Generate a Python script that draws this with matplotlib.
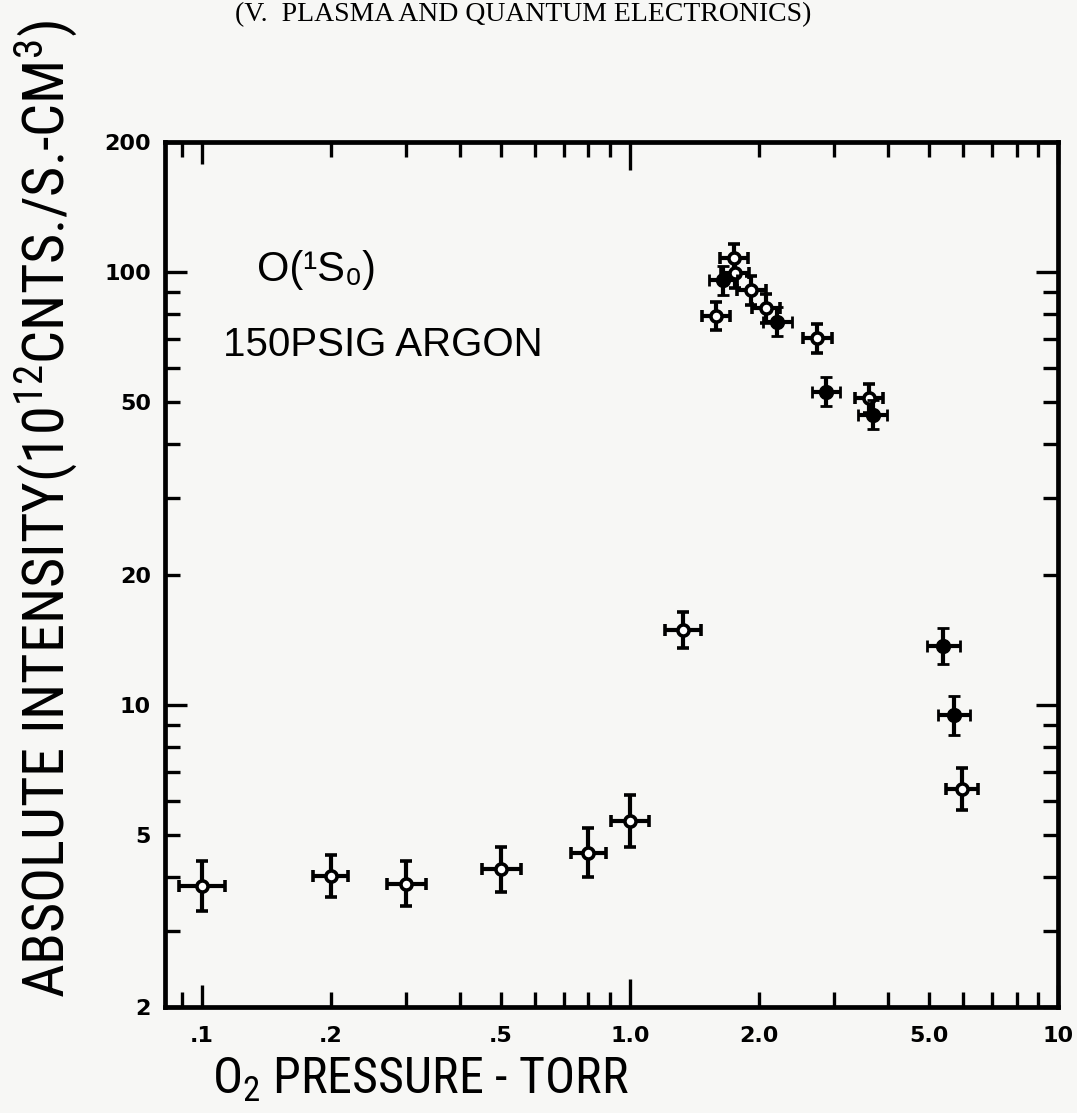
import numpy as np
import matplotlib
matplotlib.use("Agg")
import matplotlib.pyplot as plt
from matplotlib import font_manager as fm
from matplotlib.ticker import FixedLocator, FixedFormatter, NullFormatter

# ---------------- data ----------------
x_open = [0.10, 0.20, 0.30, 0.50, 0.80, 1.00, 1.33, 1.59, 1.75, 1.76, 1.92, 2.08, 2.74, 3.62, 5.97]
y_open = [3.81, 4.02, 3.86, 4.16, 4.55, 5.38, 14.9, 79.2, 107.7, 99.4, 90.9, 82.5, 70.3, 51.1, 6.38]
xerr_open = [1.13, 1.10, 1.11, 1.11, 1.10, 1.11, 1.10, 1.08, 1.08, 1.08, 1.08, 1.08, 1.08, 1.08, 1.09]
yerr_open = [1.145, 1.12, 1.13, 1.13, 1.14, 1.15, 1.10, 1.08, 1.08, 1.08, 1.08, 1.08, 1.08, 1.08, 1.12]

x_fill = [1.65, 2.21, 2.87, 3.69, 5.40, 5.71]
y_fill = [95.9, 76.8, 52.9, 46.8, 13.67, 9.46]
xerr_fill = [1.08, 1.08, 1.08, 1.08, 1.09, 1.09]
yerr_fill = [1.08, 1.08, 1.08, 1.08, 1.10, 1.11]

x_ticks = [0.1, 0.2, 0.5, 1.0, 2.0, 5.0, 10.0]
x_ticklabels = [".1", ".2", ".5", "1.0", "2.0", "5.0", "10"]
x_minor = [0.09, 0.3, 0.4, 0.6, 0.7, 0.8, 0.9, 3, 4, 6, 7, 8, 9]
y_ticks = [2, 5, 10, 20, 50, 100, 200]
y_ticklabels = ["2", "5", "10", "20", "50", "100", "200"]
y_minor = [3, 4, 6, 7, 8, 9, 30, 40, 60, 70, 80, 90]

header = "(V.  PLASMA AND QUANTUM ELECTRONICS)"
ylabel = r"ABSOLUTE INTENSITY(10$^{12}$CNTS./S.-CM$^{3}$)"
xlabel = r"O$_{2}$ PRESSURE - TORR"
note1 = "O(¹S₀)"
note2 = "150PSIG ARGON"

# ---------------- fonts ----------------
avail = {f.name for f in fm.fontManager.ttflist}


def pick(*cands):
    for c in cands:
        if c in avail:
            return c
    return "DejaVu Sans"


cond_font = pick("Liberation Sans Narrow", "Roboto Condensed", "Open Sans Condensed", "Liberation Sans")
serif_font = pick("Liberation Serif", "DejaVu Serif")
plain_font = pick("Liberation Sans", "DejaVu Sans")

plt.rcParams["mathtext.fontset"] = "custom"
plt.rcParams["mathtext.rm"] = cond_font
plt.rcParams["mathtext.it"] = cond_font
plt.rcParams["mathtext.bf"] = cond_font

bg = "#f7f7f5"
fig = plt.figure(figsize=(10.77, 11.13), dpi=100, facecolor=bg)
ax = fig.add_axes([0.1532, 0.0952, 0.8292, 0.7772])
ax.set_facecolor(bg)
ax.set_xscale("log")
ax.set_yscale("log")
ax.set_xlim(0.082, 10)
ax.set_ylim(2, 200)


def logerr(v, f):
    v = np.asarray(v, float)
    f = np.asarray(f, float)
    return [v - v / f, v * f - v]


ax.errorbar(x_open, y_open, xerr=logerr(x_open, xerr_open), yerr=logerr(y_open, yerr_open),
            fmt="o", ms=8, mfc="white", mec="black", mew=2.6, ecolor="black",
            elinewidth=3.0, capsize=4.5, capthick=3.0, zorder=3)
ax.errorbar(x_fill, y_fill, xerr=logerr(x_fill, xerr_fill), yerr=logerr(y_fill, yerr_fill),
            fmt="o", ms=9, mfc="black", mec="black", mew=2.0, ecolor="black",
            elinewidth=3.0, capsize=4.5, capthick=3.0, zorder=4)

# ---------------- axes styling ----------------
for s in ax.spines.values():
    s.set_linewidth(3.4)

ax.xaxis.set_major_locator(FixedLocator(x_ticks))
ax.xaxis.set_major_formatter(FixedFormatter(x_ticklabels))
ax.xaxis.set_minor_locator(FixedLocator(x_minor))
ax.xaxis.set_minor_formatter(NullFormatter())
ax.yaxis.set_major_locator(FixedLocator(y_ticks))
ax.yaxis.set_major_formatter(FixedFormatter(y_ticklabels))
ax.yaxis.set_minor_locator(FixedLocator(y_minor))
ax.yaxis.set_minor_formatter(NullFormatter())

ax.tick_params(which="both", direction="in", top=True, right=True, width=2.4, color="black")
ax.tick_params(which="major", length=11)
ax.tick_params(which="minor", length=11)
ax.tick_params(axis="x", which="major", pad=14)
ax.tick_params(axis="y", which="major", pad=10)

long_x = {0.1: 16, 1.0: 20, 10.0: 16}
for t, v in zip(ax.xaxis.get_major_ticks(), x_ticks):
    if v in long_x:
        t.tick1line.set_markersize(long_x[v])
        t.tick2line.set_markersize(long_x[v])
long_y = {10: 16, 100: 16}
for t, v in zip(ax.yaxis.get_major_ticks(), y_ticks):
    if v in long_y:
        t.tick1line.set_markersize(long_y[v])
        t.tick2line.set_markersize(long_y[v])

for lab in ax.get_xticklabels() + ax.get_yticklabels():
    lab.set_fontfamily("DejaVu Sans")
    lab.set_fontweight("bold")
    lab.set_fontsize(16)

# ---------------- texts ----------------
fig.text(0.486, 0.987, header, ha="center", va="center", fontsize=20,
         family=[serif_font, "DejaVu Serif"])
fig.text(0.042, 0.543, ylabel, rotation=90, ha="center", va="center", fontsize=42,
         family=[cond_font, "DejaVu Sans"])
fig.text(0.390, 0.030, xlabel, ha="center", va="center", fontsize=36,
         family=[cond_font, "DejaVu Sans"])
fig.text(0.239, 0.757, note1, ha="left", va="center", fontsize=30,
         family=[plain_font, "DejaVu Sans"])
fig.text(0.207, 0.690, note2, ha="left", va="center", fontsize=29,
         family=[plain_font, "DejaVu Sans"])

fig.savefig("out.png", dpi=100, facecolor=bg)
